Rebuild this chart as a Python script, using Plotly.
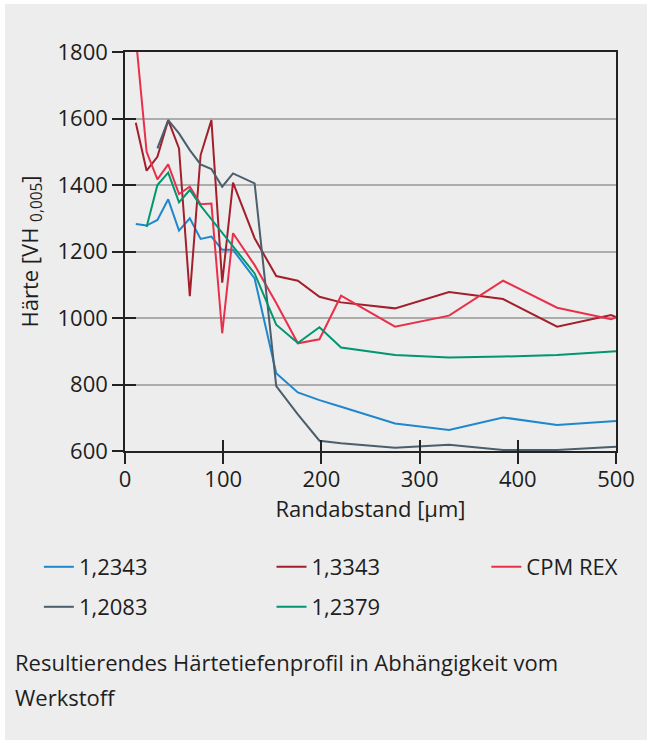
import plotly.graph_objects as go

names = ["1,2343", "1,3343", "CPM REX", "1,2083", "1,2379"]
colors = ["#1f87cc", "#a21f2b", "#e8304b", "#4b5e6b", "#00966f"]

# x positions (µm) and hardness values per series
x_12343 = [11, 22, 33, 44, 55, 66, 77, 88, 99, 110, 132, 154, 176, 198, 220, 275, 330, 385, 440, 500]
y_12343 = [1283, 1278, 1295, 1357, 1263, 1300, 1238, 1245, 1205, 1205, 1119, 834, 776, 753, 733, 683, 663, 701, 678, 690]

x_13343 = [11, 22, 33, 44, 55, 66, 77, 88, 99, 110, 132, 154, 176, 198, 220, 275, 330, 385, 440, 495, 500]
y_13343 = [1587, 1443, 1485, 1595, 1510, 1066, 1490, 1595, 1106, 1407, 1240, 1126, 1112, 1064, 1047, 1029, 1078, 1057, 974, 1009, 1003]

x_cpm = [11, 22, 33, 44, 55, 66, 77, 88, 99, 110, 132, 154, 176, 198, 220, 275, 330, 385, 440, 495, 500]
y_cpm = [1845, 1500, 1417, 1462, 1373, 1395, 1342, 1344, 954, 1255, 1159, 1045, 924, 936, 1067, 974, 1007, 1112, 1031, 996, 1002]

x_12083 = [33, 44, 55, 66, 77, 88, 99, 110, 132, 154, 176, 198, 220, 275, 330, 385, 440, 500]
y_12083 = [1510, 1595, 1555, 1505, 1462, 1448, 1395, 1435, 1405, 795, 710, 631, 623, 610, 619, 603, 603, 613]

x_12379 = [22, 33, 44, 55, 66, 77, 88, 99, 110, 132, 154, 176, 198, 220, 275, 330, 385, 440, 500]
y_12379 = [1274, 1400, 1437, 1348, 1385, 1338, 1297, 1256, 1216, 1134, 980, 925, 972, 911, 889, 881, 884, 889, 900]

series_x = [x_12343, x_13343, x_cpm, x_12083, x_12379]
series_y = [y_12343, y_13343, y_cpm, y_12083, y_12379]

x_ticks = [0, 100, 200, 300, 400, 500]
y_ticks = [600, 800, 1000, 1200, 1400, 1600, 1800]

x_title = "Randabstand [µm]"
y_title = "Härte [VH <sub>0,005</sub>]"
caption_lines = ["Resultierendes Härtetiefenprofil in Abhängigkeit vom", "Werkstoff"]

FONT = "Open Sans"
FS = 22
TXT = "#1e1e1e"
BG = "#ededed"

# plot area in page pixels: x 125..621, y 52..451 (figure placed at page 5,4)
W = 496.0
H = 399.0
def px2x(px):
    return (px - 125) / W
def py2y(py):
    return (451 - py) / H

leg_pos = [(38, 567), (273, 567), (490, 567), (38, 607), (273, 607)]
leg_ids = ["legend", "legend2", "legend3", "legend4", "legend5"]

fig = go.Figure()
for i in range(5):
    fig.add_trace(go.Scatter(
        x=series_x[i], y=series_y[i], mode="lines", name=names[i],
        line=dict(color=colors[i], width=2),
        legend=leg_ids[i],
    ))

# invisible trace carrying the overlay axes (inside half of the crossing ticks)
fig.add_trace(go.Scatter(x=[0], y=[600], xaxis="x2", yaxis="y2", mode="markers",
                         marker=dict(opacity=0), showlegend=False, hoverinfo="skip"))

layout_legends = {}
for i, lid in enumerate(leg_ids):
    lx, ly = leg_pos[i]
    layout_legends[lid] = dict(
        x=px2x(lx), y=py2y(ly), xanchor="left", yanchor="middle",
        bgcolor="rgba(0,0,0,0)", font=dict(family=FONT, size=FS, color=TXT),
        itemwidth=30,
    )

fig.update_layout(
    width=642, height=736, autosize=False,
    paper_bgcolor=BG, plot_bgcolor=BG,
    margin=dict(l=120, r=26, t=48, b=289),
    font=dict(family=FONT, size=FS, color=TXT),
    showlegend=True,
    xaxis=dict(range=[0, 500], tickvals=x_ticks, ticks="outside", ticklen=11, tickwidth=1.5,
               tickcolor="#222", showline=True, linecolor="#222", linewidth=1.5, mirror=True,
               showgrid=False, zeroline=False, ticklabelstandoff=-3,
               title=dict(text=x_title, standoff=3, font=dict(size=FS)),
               tickfont=dict(size=FS)),
    yaxis=dict(range=[600, 1800], tickvals=y_ticks, ticks="outside", ticklen=11, tickwidth=1.5,
               tickcolor="#222", showline=True, linecolor="#222", linewidth=1.5, mirror=True,
               showgrid=True, gridcolor="#acacac", gridwidth=1.5, zeroline=False,
               title=dict(text=y_title, standoff=13, font=dict(size=FS)),
               tickfont=dict(size=FS)),
    xaxis2=dict(overlaying="x", matches="x", range=[0, 500], tickvals=x_ticks, ticks="inside",
                ticklen=11, tickwidth=1.5, tickcolor="#222", showticklabels=False,
                showgrid=False, zeroline=False, showline=False),
    yaxis2=dict(overlaying="y", matches="y", range=[600, 1800], tickvals=y_ticks, ticks="inside",
                ticklen=11, tickwidth=1.5, tickcolor="#222", showticklabels=False,
                showgrid=False, zeroline=False, showline=False),
    **layout_legends,
)

for line, py in zip(caption_lines, [662, 697]):
    fig.add_annotation(text=line, xref="paper", yref="paper", x=px2x(12), y=py2y(py),
                       xanchor="left", yanchor="middle", showarrow=False,
                       font=dict(family=FONT, size=FS, color=TXT))

post = (
    "document.body.style.margin='4px 0 0 5px';"
    "document.body.style.overflow='hidden';"
    "document.documentElement.style.overflow='hidden';"
)

fig.write_html("out.html", config={"responsive": False}, post_script=post)
